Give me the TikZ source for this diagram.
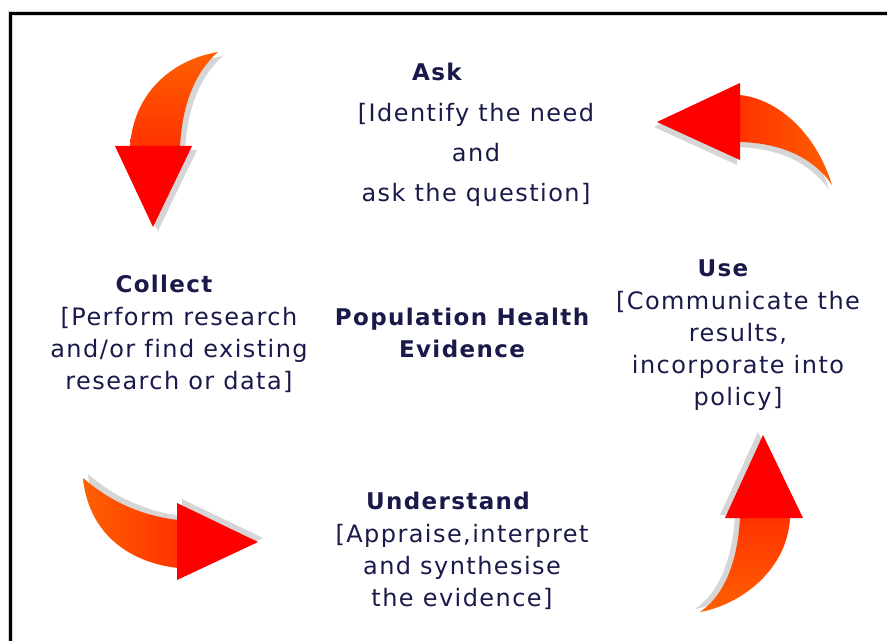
\documentclass[tikz,border=0pt]{standalone}
\usepackage{fontspec}
\setmainfont{DejaVu Sans}[LetterSpace=6,Ligatures={NoCommon}]
\definecolor{txt}{HTML}{1A1A4A}
\definecolor{orng}{HTML}{FF6000}
\definecolor{orred}{HTML}{FF3300}
\definecolor{headred}{HTML}{FF0000}
\definecolor{shad}{HTML}{D6D6D6}
\tikzset{
  ttl/.style={text=txt, inner sep=0pt, font=\fontsize{17.25}{24}\selectfont\bfseries, align=center},
  body/.style={text=txt, inner sep=0pt, font=\fontsize{18}{24}\selectfont, align=center},
  askbody/.style={text=txt, inner sep=0pt, font=\fontsize{18}{30}\selectfont, align=center},
  headfill/.style={fill=headred},
  shadowfill/.style={fill=shad},
}
\begin{document}
\begin{tikzpicture}[x=0.75pt,y=-0.75pt]
\useasboundingbox (0,0) rectangle (887,641);
\fill[white] (0,0) rectangle (887,641);
% frame
\draw[shad, line width=3.75pt] (10,641) -- (10,13.5) -- (887,13.5);
\draw[black, line width=2.25pt] (10,641) -- (10,13.5) -- (887,13.5);

% ---- Arrow 1 (down, top-left)
\begin{scope}[shift={(5,4)}]
\fill[shadowfill] (130,147) .. controls (133,95) and (170,60) .. (218,52) .. controls (195,72) and (182,105) .. (180,147) -- cycle;
\fill[shadowfill] (115,146) -- (192,146) -- (153,227) -- cycle;
\end{scope}
\shade[top color=orng, bottom color=orred] (130,147) .. controls (133,95) and (170,60) .. (218,52) .. controls (195,72) and (182,105) .. (180,147) -- cycle;
\fill[headfill] (115,146) -- (192,146) -- (153,227) -- cycle;

% ---- Arrow 2 (left, top-right)
\begin{scope}[shift={(-3,5)}]
\fill[shadowfill] (739,95) .. controls (775,98) and (815,130) .. (832,185) .. controls (815,160) and (785,143) .. (739,142) -- cycle;
\fill[shadowfill] (740,83) -- (740,160) -- (657,122) -- cycle;
\end{scope}
\shade[left color=orred, right color=orng] (739,95) .. controls (775,98) and (815,130) .. (832,185) .. controls (815,160) and (785,143) .. (739,142) -- cycle;
\fill[headfill] (740,83) -- (740,160) -- (657,122) -- cycle;

% ---- Arrow 3 (right, bottom-left)
\begin{scope}[shift={(5,-4)}]
\fill[shadowfill] (83,478) .. controls (105,497) and (135,515) .. (178,520) -- (178,568) .. controls (125,562) and (88,530) .. (83,478) -- cycle;
\fill[shadowfill] (177,503) -- (258,542) -- (177,580) -- cycle;
\end{scope}
\shade[left color=orng, right color=orred] (83,478) .. controls (105,497) and (135,515) .. (178,520) -- (178,568) .. controls (125,562) and (88,530) .. (83,478) -- cycle;
\fill[headfill] (177,503) -- (258,542) -- (177,580) -- cycle;

% ---- Arrow 4 (up, bottom-right)
\begin{scope}[shift={(-5,-3)}]
\fill[shadowfill] (740,517) .. controls (738,560) and (725,595) .. (700,612) .. controls (740,605) and (788,570) .. (790,517) -- cycle;
\fill[shadowfill] (725,518) -- (763,435) -- (803,518) -- cycle;
\end{scope}
\shade[top color=orred, bottom color=orng] (740,517) .. controls (738,560) and (725,595) .. (700,612) .. controls (740,605) and (788,570) .. (790,517) -- cycle;
\fill[headfill] (725,518) -- (763,435) -- (803,518) -- cycle;

% ---- Texts
\node[ttl] (askt) at (437,72) {Ask};
\node[askbody] (askb) at (476,155) {[Identify the need\\and\\ask the question]};
\node[ttl] (colt) at (164,284) {Collect};
\node[body] (colb) at (179,350) {[Perform research\\and/or find existing\\research or data]};
\node[ttl] (phe) at (462,333) {Population Health\\Evidence};
\node[ttl] (uset) at (723,268) {Use};
\node[body] (useb) at (738,351) {[Communicate the\\results,\\incorporate into\\policy]};
\node[ttl] (undt) at (448,501) {Understand};
\node[body] (undb) at (462,567) {[Appraise,interpret\\and synthesise\\the evidence]};
\end{tikzpicture}
\end{document}
